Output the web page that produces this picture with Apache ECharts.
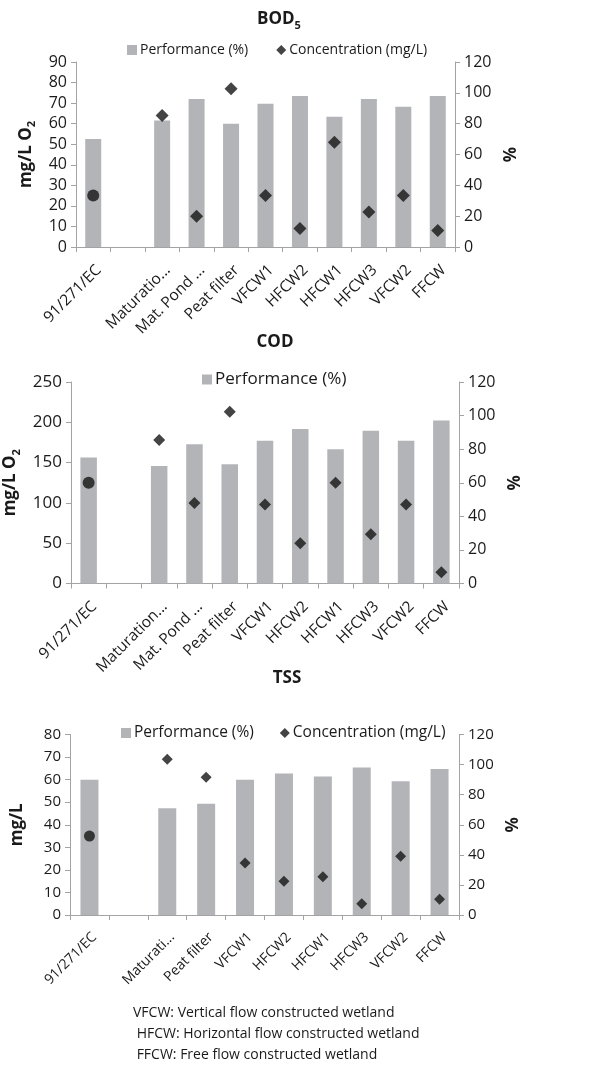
<!DOCTYPE html>
<html><head><meta charset="utf-8">
<script src="https://cdn.jsdelivr.net/npm/echarts@6/dist/echarts.min.js"></script>
<style>html,body{margin:0;padding:0;background:#fff}#c{width:612px;height:1065px}</style>
</head><body><div id="c"></div>
<script>
// ---- data ----
const bodCategories = ['91/271/EC', '', 'Maturatio...', 'Mat. Pond ...', 'Peat filter', 'VFCW1', 'HFCW2', 'HFCW1', 'HFCW3', 'VFCW2', 'FFCW'];
const bodPerformance = [70, null, 82, 96, 80, 93, 98, 84.5, 96, 91, 98];
const bodConcentration = [25, null, 64, 15, 77, 25, 9, 51, 17, 25, 8];

const codCategories = ['91/271/EC', '', 'Maturation...', 'Mat. Pond ...', 'Peat filter', 'VFCW1', 'HFCW2', 'HFCW1', 'HFCW3', 'VFCW2', 'FFCW'];
const codPerformance = [75, null, 70, 83, 71, 85, 92, 80, 91, 85, 97];
const codConcentration = [125, null, 178, 100, 213, 98, 50, 125, 61, 98, 14];

const tssCategories = ['91/271/EC', '', 'Maturati...', 'Peat filter', 'VFCW1', 'HFCW2', 'HFCW1', 'HFCW3', 'VFCW2', 'FFCW'];
const tssPerformance = [90, null, 71, 74, 90, 94, 92, 98, 89, 97];
const tssConcentration = [35, null, 69, 61, 23, 15, 17, 5, 26, 7];

const footnoteLines = ['VFCW: Vertical flow constructed wetland', ' HFCW: Horizontal flow constructed wetland', ' FFCW: Free flow constructed wetland'];

// ---- styling ----
const FONT = '"Open Sans", "Noto Sans", sans-serif';
const TXT = '#1a1a1a';
const AXC = '#a3a3a3';
const BAR = '#b3b4b8';
const MARK = '#151515';

function richName(size) {
  return {
    fontFamily: FONT, fontWeight: 'bold', color: TXT,
    rich: {
      a: { fontFamily: FONT, fontWeight: 'bold', fontSize: size, color: TXT, lineHeight: size + 6, verticalAlign: 'middle' },
      s: { fontFamily: FONT, fontWeight: 'bold', fontSize: Math.round(size * 0.65), color: TXT, lineHeight: Math.round(size * 0.65), verticalAlign: 'bottom' }
    }
  };
}

function xAx(gi, data, fs) {
  return {
    type: 'category', gridIndex: gi, data: data,
    axisLine: { show: true, lineStyle: { color: AXC, width: 1 } },
    axisTick: { show: true, length: 5, lineStyle: { color: AXC } },
    axisLabel: { rotate: 45, interval: 0, fontSize: fs, fontFamily: FONT, color: TXT, margin: 15, verticalAlign: 'top' },
    splitLine: { show: false }
  };
}
function yAx(gi, pos, max, interval, fs, name, nameGap, nameSize) {
  return {
    type: 'value', gridIndex: gi, position: pos, min: 0, max: max, interval: interval,
    axisLine: { show: true, lineStyle: { color: AXC, width: 1 } },
    axisTick: { show: true, length: 5, inside: false, lineStyle: { color: AXC } },
    axisLabel: { fontSize: fs, fontFamily: FONT, color: TXT, margin: 9 },
    splitLine: { show: false },
    name: name, nameLocation: 'middle', nameRotate: 90, nameGap: nameGap,
    nameTextStyle: richName(nameSize)
  };
}
function pts(arr, circleSize) {
  return arr.map((v, i) => v == null ? '-' : (i === 0 ? { value: v, symbol: 'circle', symbolSize: circleSize } : v));
}
function barS(xi, yi, data, w) {
  return { type: 'bar', name: 'Performance (%)', xAxisIndex: xi, yAxisIndex: yi, data: data, barWidth: w,
    itemStyle: { color: BAR }, z: 2 };
}
function scS(xi, yi, data, sz, csz) {
  return { type: 'scatter', name: 'Concentration (mg/L)', xAxisIndex: xi, yAxisIndex: yi, data: pts(data, csz),
    symbol: 'diamond', symbolSize: sz, itemStyle: { color: MARK }, z: 3 };
}
function titleT(text, x, y, size) {
  return {
    text: text, left: x, top: y, textAlign: 'center',
    textStyle: {
      fontFamily: FONT, fontWeight: 'bold', fontSize: size, color: TXT,
      rich: {
        a: { fontFamily: FONT, fontWeight: 'bold', fontSize: size, color: TXT, lineHeight: size + 6, verticalAlign: 'middle' },
        s: { fontFamily: FONT, fontWeight: 'bold', fontSize: Math.round(size * 0.65), color: TXT, lineHeight: Math.round(size * 0.65), verticalAlign: 'bottom' }
      }
    }
  };
}
const legIcons = { 'Performance (%)': 'rect', 'Concentration (mg/L)': 'diamond' };
function leg(names, x, y, fs, gap) {
  return {
    left: x, top: y, orient: 'horizontal', itemWidth: 10, itemHeight: 10, itemGap: gap,
    data: names.map(n => ({ name: n, icon: legIcons[n] })),
    textStyle: { fontFamily: FONT, fontSize: fs, color: TXT, padding: [0, 0, 0, -2] },
    selectedMode: false
  };
}

const chart = echarts.init(document.getElementById('c'), null, { renderer: 'canvas' });
chart.setOption({
  animation: false,
  backgroundColor: '#fff',
  title: [
    titleT('{a|BOD}{s|5}', 274, 3, 17),
    titleT('{a|COD}', 270, 326, 17),
    titleT('{a|TSS}', 282, 662, 17)
  ],
  legend: [
    leg(['Performance (%)', 'Concentration (mg/L)'], 122, 38, 14, 28),
    leg(['Performance (%)'], 197, 366, 17, 30),
    leg(['Performance (%)', 'Concentration (mg/L)'], 116, 720, 15.5, 26)
  ],
  grid: [
    { left: 76, right: 157, top: 62, height: 185, containLabel: false, outerBoundsMode: 'none' },
    { left: 71, right: 153, top: 382, height: 201.5, containLabel: false, outerBoundsMode: 'none' },
    { left: 70, right: 153, top: 734.5, height: 180.5, containLabel: false, outerBoundsMode: 'none' }
  ],
  xAxis: [
    xAx(0, bodCategories, 15.5),
    xAx(1, codCategories, 15.5),
    xAx(2, tssCategories, 14)
  ],
  yAxis: [
    yAx(0, 'left', 90, 10, 16, '{a|mg/L O}{s|2}', 37, 17),
    yAx(0, 'right', 120, 20, 16, '{a|%}', 43, 17),
    yAx(1, 'left', 250, 50, 17, '{a|mg/L O}{s|2}', 39, 17),
    yAx(1, 'right', 120, 20, 16, '{a|%}', 42, 17),
    yAx(2, 'left', 80, 10, 15, '{a|mg/L}', 41, 17),
    yAx(2, 'right', 120, 20, 15, '{a|%}', 32, 17)
  ],
  series: [
    barS(0, 1, bodPerformance, 16),
    scS(0, 0, bodConcentration, 13, 12),
    barS(1, 3, codPerformance, 16.5),
    scS(1, 2, codConcentration, 12, 12),
    barS(2, 5, tssPerformance, 18),
    scS(2, 4, tssConcentration, 11, 11)
  ],
  graphic: [
    { type: 'text', left: 133, top: 1003, silent: true,
      style: { text: footnoteLines.join('\n'), font: '14px ' + FONT, fill: TXT, lineHeight: 21 } }
  ]
});
</script>
</body></html>
